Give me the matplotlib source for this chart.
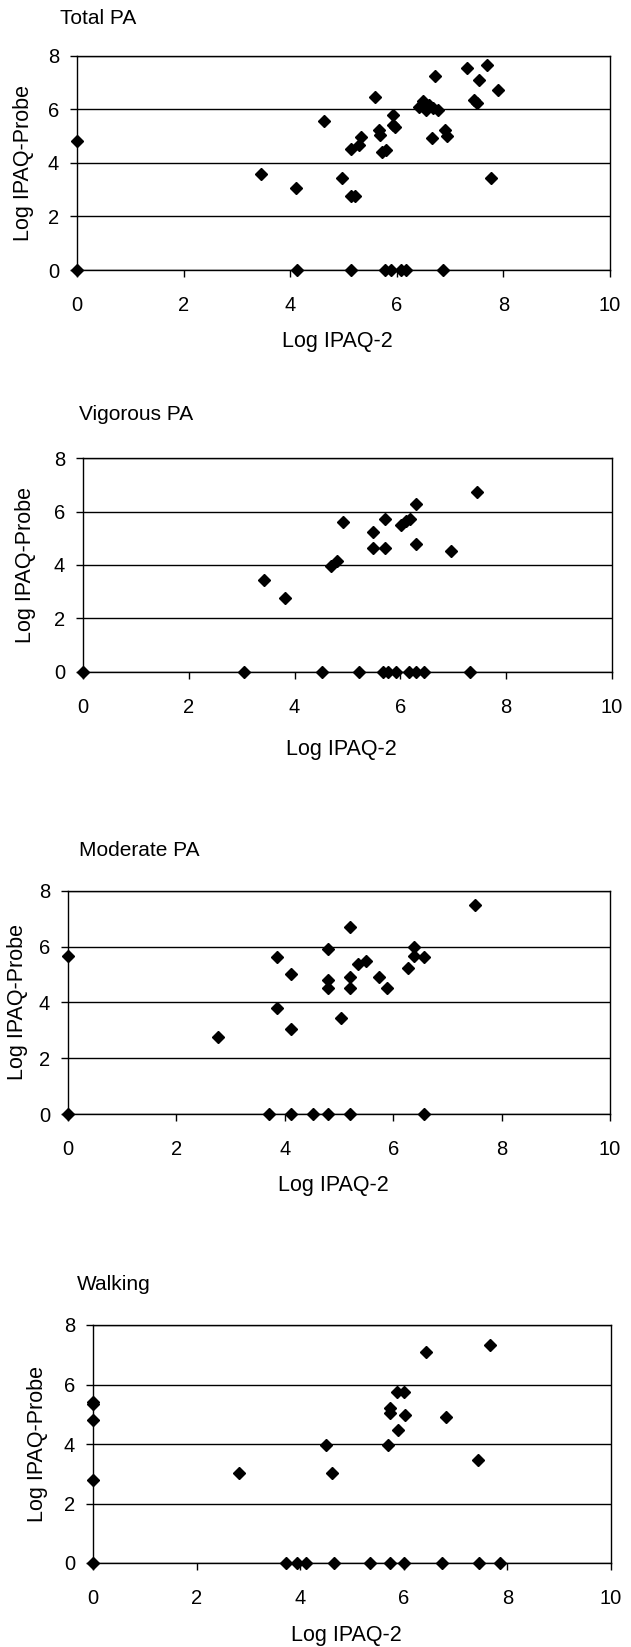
import matplotlib.pyplot as plt

FIG_W = 631
FIG_H = 1647
TICK_SIZE = 14.5
TITLE_SIZE = 15
LABEL_SIZE = 15.5
MARKER_SIZE = 6.6

# Total PA
total_x = [0, 0, 3.46, 4.10, 4.63, 4.97, 5.15, 5.22, 5.14, 5.30, 5.33, 5.60,
           5.67, 5.69, 5.72, 5.79, 5.93, 5.93, 5.97, 6.41, 6.50, 6.55, 6.60,
           6.68, 6.78, 6.72, 6.66, 6.90, 6.95, 7.32, 7.69, 7.54, 7.45, 7.51,
           7.90, 7.76, 4.12, 5.14, 5.78, 5.90, 6.07, 6.18, 6.86]
total_y = [4.80, 0, 3.59, 3.04, 5.56, 3.44, 2.77, 2.77, 4.51, 4.66, 4.97, 6.45,
           5.22, 5.03, 4.39, 4.49, 5.78, 5.41, 5.35, 6.08, 6.30, 5.95, 6.15,
           6.05, 5.98, 7.23, 4.91, 5.22, 5.01, 7.53, 7.63, 7.10, 6.34, 6.22,
           6.73, 3.44, 0, 0, 0, 0, 0, 0, 0]

# Vigorous PA
vigorous_x = [0, 3.43, 3.82, 4.68, 4.81, 4.91, 5.49, 5.49, 5.71, 5.71, 6.02,
              6.11, 6.19, 6.30, 6.30, 6.96, 7.44, 3.04, 4.52, 5.22, 5.68, 5.76,
              5.91, 6.17, 6.30, 6.44, 7.31]
vigorous_y = [0, 3.42, 2.78, 3.95, 4.14, 5.60, 5.23, 4.63, 5.71, 4.63, 5.49,
              5.64, 5.73, 6.29, 4.80, 4.54, 6.75, 0, 0, 0, 0, 0,
              0, 0, 0, 0, 0]

# Moderate PA
moderate_x = [0, 0, 2.77, 3.85, 3.85, 4.12, 4.12, 4.79, 4.79, 4.79, 5.03, 5.20,
              5.20, 5.20, 5.35, 5.49, 5.73, 5.89, 6.28, 6.39, 6.39, 6.57, 7.50,
              3.71, 4.12, 4.52, 4.79, 5.20, 6.57]
moderate_y = [5.66, 0, 2.77, 5.61, 3.81, 5.03, 3.04, 5.90, 4.80, 4.50, 3.43, 6.71,
              4.92, 4.50, 5.36, 5.48, 4.92, 4.53, 5.22, 5.99, 5.66, 5.61, 7.50,
              0, 0, 0, 0, 0, 0]

# Walking
walking_x = [0, 0, 0, 0, 0, 2.82, 4.50, 4.62, 5.70, 5.73, 5.73, 5.88, 5.87,
             6.00, 6.02, 6.43, 6.81, 7.43, 7.67, 3.73, 3.93, 4.11, 4.65, 5.35,
             5.73, 6.01, 6.74, 7.45, 7.86]
walking_y = [5.40, 5.33, 4.79, 2.80, 0, 3.03, 3.95, 3.04, 3.95, 5.21, 5.04, 4.48,
             5.75, 5.75, 4.97, 7.09, 4.90, 3.45, 7.33, 0, 0, 0, 0, 0,
             0, 0, 0, 0, 0]

titles = ["Total PA", "Vigorous PA", "Moderate PA", "Walking"]
x_ticks = [0, 2, 4, 6, 8, 10]
y_ticks = [0, 2, 4, 6, 8]
x_label = "Log IPAQ-2"
y_label = "Log IPAQ-Probe"

# pixel layout of each panel: axes left/right/top/bottom, title x/y, ylabel x, xlabel y
LAYOUT = [
    dict(left=77, right=610, top=55.5, bottom=270, title=(60, 19), ylab=24, xlab=342),
    dict(left=83, right=612, top=458.3, bottom=671.7, title=(79, 415), ylab=26, xlab=750),
    dict(left=68, right=610, top=890.7, bottom=1114, title=(79, 850), ylab=18, xlab=1186),
    dict(left=93, right=611, top=1325, bottom=1563, title=(77, 1285), ylab=38, xlab=1635),
]


def main():
    plt.rcParams['font.family'] = ['Liberation Sans', 'DejaVu Sans']
    fig = plt.figure(figsize=(FIG_W / 100, FIG_H / 100), dpi=100)

    series = [(total_x, total_y), (vigorous_x, vigorous_y),
              (moderate_x, moderate_y), (walking_x, walking_y)]
    for title, (xs, ys), box in zip(titles, series, LAYOUT):
        _draw_panel(fig, title, xs, ys, box)

    fig.savefig("out.png", dpi=100)


def _draw_panel(fig, title, xs, ys, box):
    rect = [box['left'] / FIG_W, 1 - box['bottom'] / FIG_H,
            (box['right'] - box['left']) / FIG_W,
            (box['bottom'] - box['top']) / FIG_H]
    ax = fig.add_axes(rect)

    ax.plot(xs, ys, 'D', color='black', ms=MARKER_SIZE, clip_on=False, zorder=5)

    ax.set_xlim(0, 10)
    ax.set_ylim(0, 8)
    ax.set_xticks(x_ticks)
    ax.set_yticks(y_ticks)
    ax.tick_params(direction='out', length=4.8, width=1, colors='black',
                   labelsize=TICK_SIZE)
    ax.tick_params(axis='x', pad=14)
    ax.tick_params(axis='y', pad=8)
    ax.yaxis.grid(True, color='black', lw=1)
    ax.set_axisbelow(True)
    for spine in ax.spines.values():
        spine.set_linewidth(1)
        spine.set_color('black')

    tx, ty = box['title']
    fig.text(tx / FIG_W, 1 - ty / FIG_H, title, fontsize=TITLE_SIZE,
             ha='left', va='center')
    mid_y = (box['top'] + box['bottom']) / 2
    fig.text(box['ylab'] / FIG_W, 1 - mid_y / FIG_H, y_label, fontsize=LABEL_SIZE,
             rotation=90, ha='center', va='center')
    mid_x = (box['left'] + box['right']) / 2 - 6
    fig.text(mid_x / FIG_W, 1 - box['xlab'] / FIG_H, x_label, fontsize=LABEL_SIZE,
             ha='center', va='center')


if __name__ == '__main__':
    main()
